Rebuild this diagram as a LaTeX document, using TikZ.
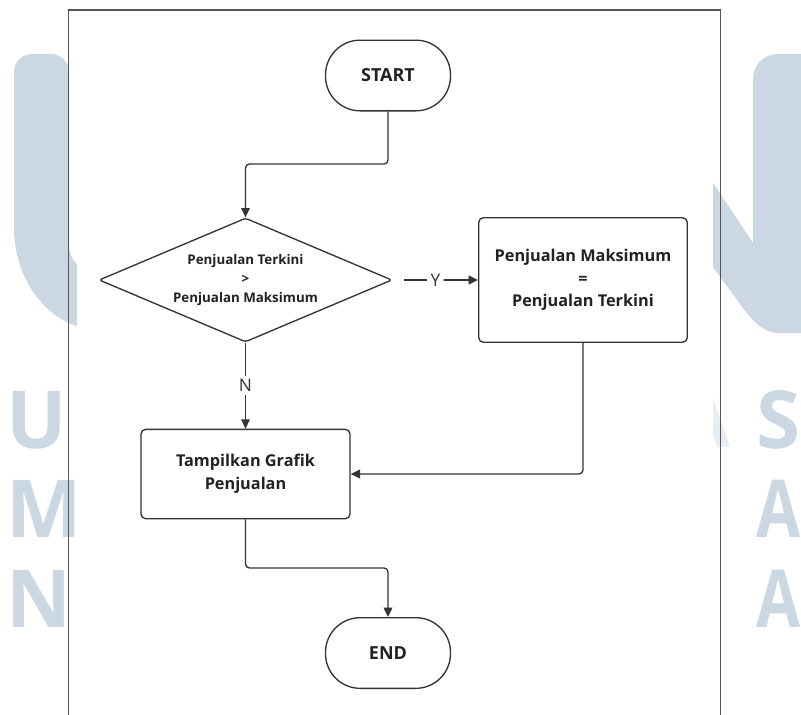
\documentclass[tikz,border=0pt]{standalone}
\usepackage{fontspec}
\setmainfont{Open Sans}
\usetikzlibrary{shapes.geometric,arrows.meta,calc}
\definecolor{wm}{HTML}{CBD8E3}
\definecolor{ink}{HTML}{333333}
\definecolor{txt}{HTML}{222222}
\definecolor{framegray}{HTML}{555555}

\begin{document}
\begin{tikzpicture}[x=0.75pt,y=-0.75pt,
  terminal/.style={draw=ink, line width=1pt, rounded corners=26pt,
    minimum width=93.75pt, minimum height=53pt, inner sep=0pt,
    text=txt, font=\fontsize{13.5}{16}\selectfont\bfseries},
  process/.style={draw=ink, line width=1pt, rounded corners=3.5pt,
    align=center, inner sep=0pt, text=txt,
    font=\fontsize{12.2}{17}\selectfont\bfseries},
  decision/.style={draw=ink, line width=1pt, diamond, shape aspect=2.36,
    rounded corners=2pt, align=center, inner sep=0pt,
    minimum width=219.75pt, minimum height=93pt,
    text=txt, font=\fontsize{10}{14.25}\selectfont\bfseries},
  flow/.style={draw=ink, line width=1pt, rounded corners=3pt,
    -{Triangle[length=7pt,width=6.5pt]}},
  lbl/.style={fill=white, text=ink, inner sep=2.5pt,
    font=\fontsize{13}{15}\selectfont},
  wmletter/.style={text=wm, inner sep=0pt,
    font=\fontsize{60}{60}\selectfont\bfseries}
]
\useasboundingbox (0,0) rectangle (801,715);
\fill[white] (0,0) rectangle (801,715);

% background logo: left stroke of the U
\fill[wm] (14,227) -- (14,72) .. controls (14,62) and (22,54) .. (32,54)
  -- (51,54) .. controls (61,54) and (69,62) .. (69,72) -- (69,245)
  .. controls (69,262) and (82,272) .. (100,273) -- (100,330)
  .. controls (52.5,330) and (14,284) .. (14,227) -- cycle;
% background logo: right stroke and diagonal of the N
\fill[wm] (753,79) .. controls (753,65) and (764,54) .. (778,54)
  -- (805,54) -- (805,333) -- (780,333)
  .. controls (762,333) and (752,321) .. (735,297)
  -- (690,236) -- (690,148) -- (753,243) -- cycle;

% background lettering
\node[wmletter, anchor=base west] (wmU) at (6.5,448) {U};
\node[wmletter, anchor=base west] (wmM) at (6,537) {M};
\node[wmletter, anchor=base west] (wmN) at (6,627) {N};
\node[wmletter, anchor=base west] (wmS) at (756,448) {S};
\node[wmletter, anchor=base east, xscale=0.8] (wmA) at (801,537) {A};
\node[wmletter, anchor=base east, xscale=0.8] (wmA2) at (801,627) {A};
\node[wmletter, anchor=base east, opacity=0.45] (wmA3) at (731,447) {A};

% white sheet of the flowchart and its frame
\fill[white] (77,11) rectangle (713,716);
\draw[framegray, line width=0.9pt] (68.5,716) -- (68.5,10) -- (720.5,10) -- (720.5,716);

% flowchart nodes
\node[terminal] (start) at (388,75.5) {START};
\node[decision] (check) at (245.5,280)
  {Penjualan Terkini\\>\\Penjualan Maksimum};
\node[process, minimum width=156.4pt, minimum height=93.4pt] (setmax) at (583,280)
  {Penjualan Maksimum\\=\\Penjualan Terkini};
\node[process, minimum width=156.75pt, minimum height=67pt] (show) at (245.5,474)
  {Tampilkan Grafik\\Penjualan};
\node[terminal] (finish) at (388,653) {END};

\coordinate (k1) at (388,164);
\coordinate (k2) at (245.5,568);

% connectors
\draw[flow] (start.south) -- (k1) -| (check.north);
\draw[flow, shorten <=8.5pt] (check.east) -- node[lbl] (ylab) {Y} (setmax.west);
\draw[flow] (check.south) -- node[lbl] (nlab) {N} (show.north);
\draw[flow] (setmax.south) |- (show.east);
\draw[flow] (show.south) -- (k2) -| (finish.north);
\end{tikzpicture}
\end{document}
